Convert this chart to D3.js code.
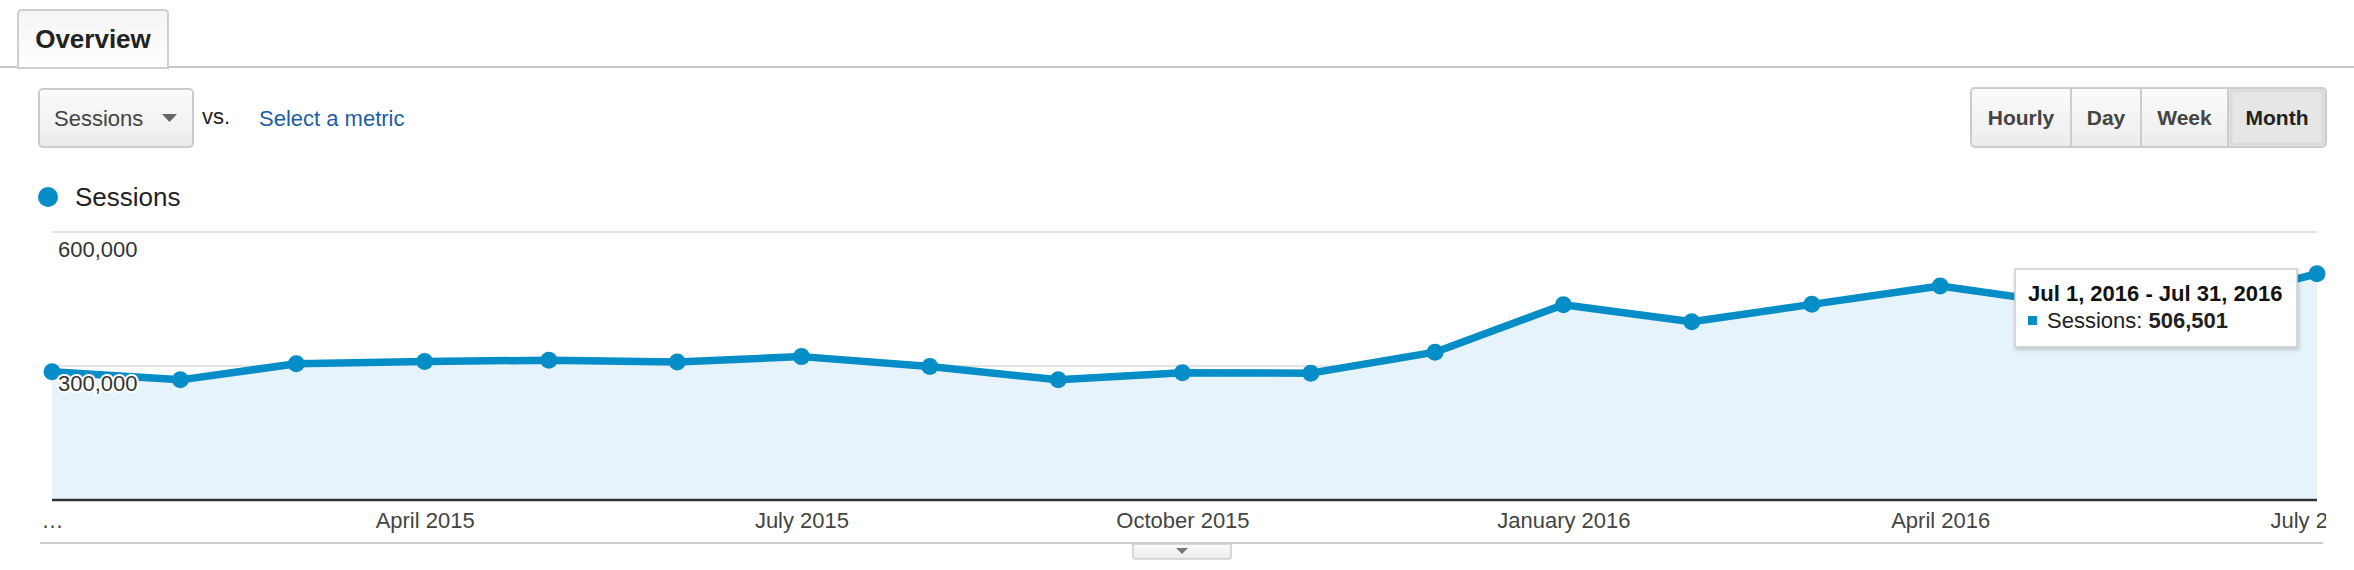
<!DOCTYPE html>
<html>
<head>
<meta charset="utf-8">
<script src="https://cdn.jsdelivr.net/npm/d3@7"></script>
<style>
  body { margin: 0; background: #fff; }
  svg text { font-family: "Liberation Sans", Arial, Helvetica, sans-serif; }
</style>
</head>
<body>
<div id="chart"></div>
<script>
// data
const months = ["2015-01", "2015-02", "2015-03", "2015-04", "2015-05", "2015-06",
  "2015-07", "2015-08", "2015-09", "2015-10", "2015-11", "2015-12",
  "2016-01", "2016-02", "2016-03", "2016-04", "2016-05", "2016-06", "2016-07"];
const sessions = [287000, 269000, 305000, 310000, 313000, 309000,
  321000, 299000, 269000, 285000, 284000, 331000,
  437000, 399000, 438000, 479000, 440000, 437000, 506501];
const xTickMonths = ["2015-01", "2015-04", "2015-07", "2015-10", "2016-01", "2016-04", "2016-07"];
const xTickLabels = ["…", "April 2015", "July 2015", "October 2015", "January 2016", "April 2016", "July 2016"];
const yTicks = [300000, 600000];
const intervals = ["Hourly", "Day", "Week", "Month"];
const tooltipTitle = "Jul 1, 2016 - Jul 31, 2016";

const W = 2354, H = 570;
const blue = "#058dc7";
const parse = d3.timeParse("%Y-%m");
const data = months.map((m, i) => ({ date: parse(m), value: sessions[i] }));

const svg = d3.select("#chart").append("svg")
  .attr("width", W).attr("height", H);

const defs = svg.append("defs");
const g1 = defs.append("linearGradient").attr("id", "btn").attr("x1", 0).attr("x2", 0).attr("y1", 0).attr("y2", 1);
g1.append("stop").attr("offset", "0%").attr("stop-color", "#fbfbfb");
g1.append("stop").attr("offset", "100%").attr("stop-color", "#ececec");
const g2 = defs.append("linearGradient").attr("id", "tab").attr("x1", 0).attr("x2", 0).attr("y1", 0).attr("y2", 1);
g2.append("stop").attr("offset", "0%").attr("stop-color", "#f4f4f4");
g2.append("stop").attr("offset", "100%").attr("stop-color", "#ffffff");
const sh = defs.append("filter").attr("id", "shadow").attr("x", "-10%").attr("y", "-20%").attr("width", "130%").attr("height", "160%");
sh.append("feDropShadow").attr("dx", 1).attr("dy", 2).attr("stdDeviation", 2).attr("flood-color", "#000").attr("flood-opacity", 0.2);
defs.append("clipPath").attr("id", "xclip").append("rect")
  .attr("x", 0).attr("y", 0).attr("width", 2326).attr("height", H);

// Overview tab
svg.append("line").attr("x1", 0).attr("x2", W).attr("y1", 67).attr("y2", 67)
  .attr("stroke", "#c8c8c8").attr("stroke-width", 2);
svg.append("path")
  .attr("d", "M18,68 L18,14 Q18,10 22,10 L164,10 Q168,10 168,14 L168,68 Z")
  .attr("fill", "url(#tab)").attr("stroke", "#cfcfcf").attr("stroke-width", 2);
svg.append("text").attr("x", 93).attr("y", 39).attr("dy", "0.35em")
  .attr("text-anchor", "middle").attr("font-size", 26).attr("font-weight", "bold")
  .attr("fill", "#222").text("Overview");

// metric selector
svg.append("rect").attr("x", 39).attr("y", 89).attr("width", 154).attr("height", 58).attr("rx", 4)
  .attr("fill", "url(#btn)").attr("stroke", "#cccccc").attr("stroke-width", 2);
svg.append("text").attr("x", 54).attr("y", 118).attr("dy", "0.35em")
  .attr("font-size", 22).attr("fill", "#444").text("Sessions");
svg.append("path").attr("d", "M162,114 L177,114 L169.5,122 Z").attr("fill", "#666");
svg.append("text").attr("x", 202).attr("y", 116).attr("dy", "0.35em")
  .attr("font-size", 22).attr("fill", "#222").text("vs.");
svg.append("text").attr("x", 259).attr("y", 118).attr("dy", "0.35em")
  .attr("font-size", 22).attr("fill", "#1c5fa5").text("Select a metric");

// interval buttons
const btnEdges = [1971, 2071, 2141, 2228, 2326];
const btns = svg.append("g");
btns.append("rect").attr("x", 1971).attr("y", 88).attr("width", 355).attr("height", 59).attr("rx", 4)
  .attr("fill", "url(#btn)");
btns.append("rect").attr("x", 2228).attr("y", 88).attr("width", 98).attr("height", 59).attr("rx", 3)
  .attr("fill", "#e2e2e2");
btns.append("rect").attr("x", 2231).attr("y", 91).attr("width", 92).attr("height", 53).attr("rx", 3)
  .attr("fill", "#e6e6e6").attr("stroke", "#d6d6d6").attr("stroke-width", 3).attr("stroke-opacity", 0.6);
btns.append("rect").attr("x", 1971).attr("y", 88).attr("width", 355).attr("height", 59).attr("rx", 4)
  .attr("fill", "none").attr("stroke", "#cccccc").attr("stroke-width", 2);
btns.selectAll("line.sep").data(btnEdges.slice(1, 4)).join("line")
  .attr("x1", d => d).attr("x2", d => d).attr("y1", 89).attr("y2", 146)
  .attr("stroke", "#cccccc").attr("stroke-width", 2);
btns.selectAll("text").data(intervals).join("text")
  .attr("x", (d, i) => (btnEdges[i] + btnEdges[i + 1]) / 2).attr("y", 118).attr("dy", "0.35em")
  .attr("text-anchor", "middle").attr("font-size", 21).attr("font-weight", "bold")
  .attr("fill", (d, i) => i === 3 ? "#222" : "#444").text(d => d);

// legend
svg.append("circle").attr("cx", 48).attr("cy", 197).attr("r", 10).attr("fill", blue);
svg.append("text").attr("x", 75).attr("y", 197).attr("dy", "0.35em")
  .attr("font-size", 26).attr("fill", "#222").text("Sessions");

// scales
const x = d3.scaleTime()
  .domain(d3.extent(data, d => d.date))
  .range([52, 2317]);
const y = d3.scaleLinear()
  .domain([0, 600000])
  .range([500, 232]);

// gridlines
svg.append("g").selectAll("line").data(yTicks).join("line")
  .attr("x1", 52).attr("x2", 2317)
  .attr("y1", d => y(d)).attr("y2", d => y(d))
  .attr("stroke", "#e4e4e4").attr("stroke-width", 2);

// area + line
svg.append("path").datum(data)
  .attr("fill", "#e6f3fa")
  .attr("d", d3.area().x(d => x(d.date)).y0(y(0)).y1(d => y(d.value)));

svg.append("path").datum(data)
  .attr("fill", "none").attr("stroke", blue).attr("stroke-width", 7.5)
  .attr("stroke-linejoin", "round")
  .attr("d", d3.line().x(d => x(d.date)).y(d => y(d.value)));

svg.append("g").selectAll("circle").data(data).join("circle")
  .attr("cx", d => x(d.date)).attr("cy", d => y(d.value))
  .attr("r", 8.5).attr("fill", blue);

// baseline
svg.append("line").attr("x1", 52).attr("x2", 2317).attr("y1", y(0)).attr("y2", y(0))
  .attr("stroke", "#333").attr("stroke-width", 2.5);

// y labels inside plot, with white halo
svg.append("g").selectAll("text").data(yTicks).join("text")
  .attr("x", 58).attr("y", d => y(d) + 17).attr("dy", "0.35em")
  .attr("font-size", 22).attr("fill", "#333")
  .attr("stroke", "#fff").attr("stroke-width", 4).attr("paint-order", "stroke")
  .text(d3.format(","));

// x axis labels
const xAxis = d3.axisBottom(x)
  .tickValues(xTickMonths.map(parse))
  .tickFormat((d, i) => xTickLabels[i])
  .tickSize(0).tickPadding(0);
const gx = svg.append("g")
  .attr("clip-path", "url(#xclip)")
  .attr("transform", "translate(0,512)")
  .call(xAxis);
gx.select(".domain").remove();
gx.selectAll("text")
  .attr("font-size", 22).attr("fill", "#444")
  .attr("font-family", "'Liberation Sans', Arial, Helvetica, sans-serif");

// bottom rule + collapse handle
svg.append("line").attr("x1", 40).attr("x2", 2323).attr("y1", 543).attr("y2", 543)
  .attr("stroke", "#cccccc").attr("stroke-width", 2);
svg.append("path")
  .attr("d", "M1133,544 L1133,556 Q1133,559 1136,559 L1228,559 Q1231,559 1231,556 L1231,544 Z")
  .attr("fill", "url(#btn)").attr("stroke", "#cccccc").attr("stroke-width", 1.5);
svg.append("path").attr("d", "M1176,548 L1188,548 L1182,554 Z").attr("fill", "#777");

// tooltip for the last month
const last = data[data.length - 1];
const tip = svg.append("g");
tip.append("rect").attr("x", 2015).attr("y", 269).attr("width", 282).attr("height", 78)
  .attr("fill", "#fff").attr("stroke", "#cccccc").attr("stroke-width", 1.5)
  .attr("filter", "url(#shadow)");
tip.append("text").attr("x", 2028).attr("y", 293).attr("dy", "0.35em")
  .attr("font-size", 22).attr("font-weight", "bold").attr("fill", "#111").text(tooltipTitle);
tip.append("rect").attr("x", 2028).attr("y", 316).attr("width", 9).attr("height", 9).attr("fill", blue);
const t2 = tip.append("text").attr("x", 2047).attr("y", 320).attr("dy", "0.35em")
  .attr("font-size", 22).attr("fill", "#222");
t2.append("tspan").text("Sessions: ");
t2.append("tspan").attr("font-weight", "bold").text(d3.format(",")(last.value));
</script>
</body>
</html>
